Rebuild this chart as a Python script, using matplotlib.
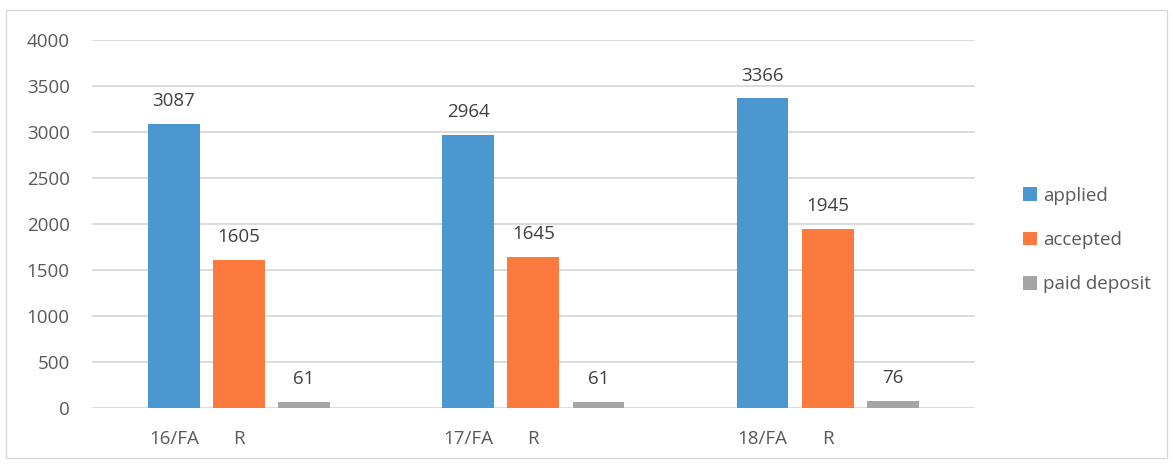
import numpy as np
import matplotlib.pyplot as plt
from matplotlib.patches import Rectangle

terms = ['16/FA', '17/FA', '18/FA']
sub_label = 'R'
series = ['applied', 'accepted', 'paid deposit']
applied = [3087, 2964, 3366]
accepted = [1605, 1645, 1945]
paid_deposit = [61, 61, 76]
colors = ['#4B98D1', '#FC7A3D', '#A5A5A5']

plt.rcParams['font.family'] = ['Open Sans', 'DejaVu Sans']

fig = plt.figure(figsize=(11.73, 4.66), dpi=100)
ax = fig.add_axes([0.0784, 0.1245, 0.7526, 0.7895])

x = np.arange(len(terms))
width = 0.176
step = 0.221

for i, (name, vals) in enumerate(zip(series, [applied, accepted, paid_deposit])):
    pos = x + (i - 1) * step
    bars = ax.bar(pos, vals, width, color=colors[i], label=name, zorder=3)
    for b, v in zip(bars, vals):
        ax.annotate(str(v), (b.get_x() + b.get_width() / 2, v),
                    xytext=(0, 10), textcoords='offset points',
                    ha='center', va='bottom', fontsize=13.5, color='#404040')

ax.set_xlim(-0.5, 2.5)
ax.set_ylim(0, 4000)
ax.set_yticks(range(0, 4001, 500))
ax.yaxis.grid(True, color='#D9D9D9', linewidth=1.3, zorder=0)
for s in ax.spines.values():
    s.set_visible(False)
ax.tick_params(axis='y', length=0, pad=16, labelsize=13.5, labelcolor='#595959')

tick_pos = np.concatenate([x - step, x])
tick_lab = terms + [sub_label] * len(terms)
ax.set_xticks(tick_pos)
ax.set_xticklabels(tick_lab)
ax.tick_params(axis='x', length=0, pad=16, labelsize=13.5, labelcolor='#595959')

leg = ax.legend(loc='center left', bbox_to_anchor=(1.035, 0.4565), frameon=False,
                fontsize=13.5, labelspacing=1.4, handlelength=0.75, handleheight=0.75,
                handletextpad=0.35)
for t in leg.get_texts():
    t.set_color('#595959')

fig.patches.append(Rectangle((0.005, 0.017), 0.99, 0.962, transform=fig.transFigure,
                             fill=False, edgecolor='#D9D9D9', linewidth=1))

fig.savefig('out.png', dpi=100)
